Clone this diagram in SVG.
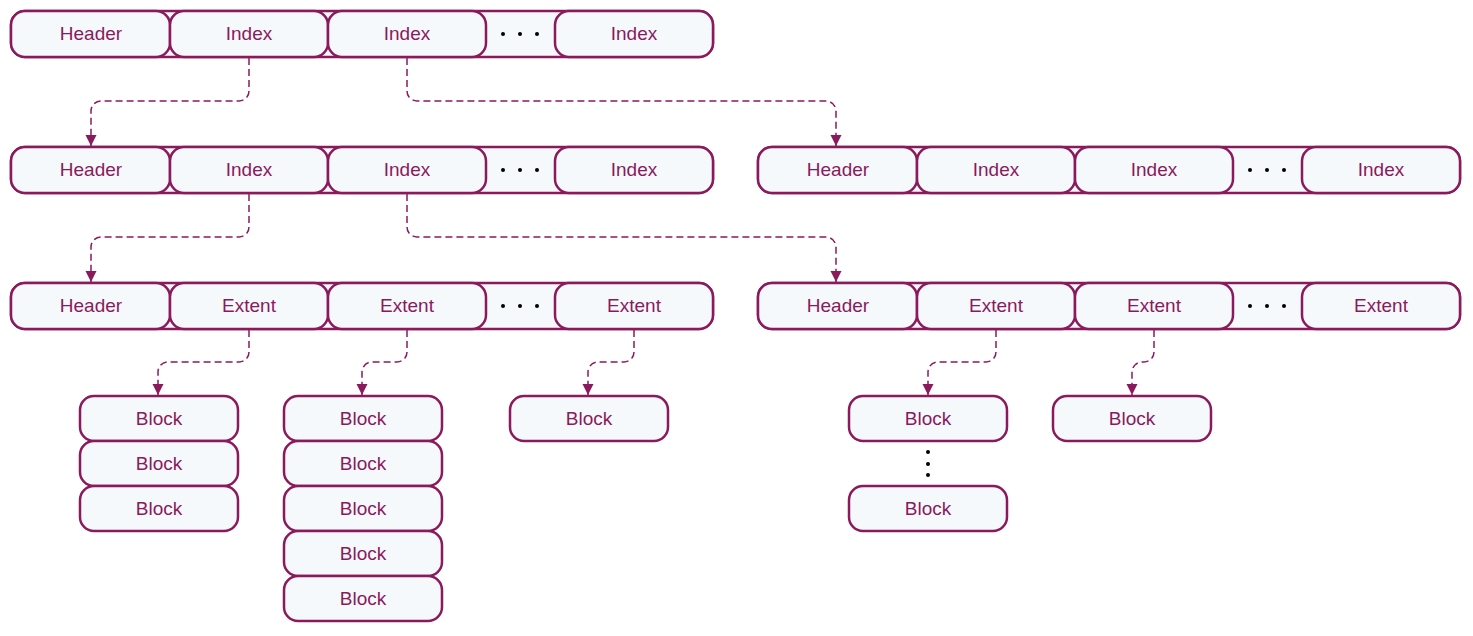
<svg xmlns="http://www.w3.org/2000/svg" width="1473" height="636" viewBox="0 0 1473 636">
<style>
.box{fill:#f5f9fc;stroke:#8b1a5c;stroke-width:2.5}
.t{font-family:"Liberation Sans",Arial,sans-serif;font-size:19px;fill:#8b1a5c;text-anchor:middle}
.dot{fill:#000}
.c{fill:none;stroke:#8b1a5c;stroke-width:1.5;stroke-dasharray:7 4}
</style>
<defs>
<marker id="ah" markerUnits="userSpaceOnUse" markerWidth="12" markerHeight="12" refX="11" refY="5.5" orient="auto">
<path d="M0,0 L11,5.5 L0,11 z" fill="#8b1a5c"/>
</marker>
</defs>
<rect width="1473" height="636" fill="#fff"/>

<g id="row1">
<rect class="box" x="11" y="11" width="702" height="46" rx="14"/>
<g id="r1-header"><rect class="box" x="11" y="11" width="159" height="46" rx="14"/><text class="t" x="91" y="40">Header</text></g>
<g id="r1-index1"><rect class="box" x="170" y="11" width="158" height="46" rx="14"/><text class="t" x="249" y="40">Index</text></g>
<g id="r1-index2"><rect class="box" x="328" y="11" width="158" height="46" rx="14"/><text class="t" x="407" y="40">Index</text></g>
<circle class="dot" cx="503" cy="34" r="2"/><circle class="dot" cx="520" cy="34" r="2"/><circle class="dot" cx="537" cy="34" r="2"/>
<g id="r1-index3"><rect class="box" x="555" y="11" width="158" height="46" rx="14"/><text class="t" x="634" y="40">Index</text></g>
</g>

<g id="row2a">
<rect class="box" x="11" y="147" width="702" height="46" rx="14"/>
<g id="r2a-header"><rect class="box" x="11" y="147" width="159" height="46" rx="14"/><text class="t" x="91" y="176">Header</text></g>
<g id="r2a-index1"><rect class="box" x="170" y="147" width="158" height="46" rx="14"/><text class="t" x="249" y="176">Index</text></g>
<g id="r2a-index2"><rect class="box" x="328" y="147" width="158" height="46" rx="14"/><text class="t" x="407" y="176">Index</text></g>
<circle class="dot" cx="503" cy="170" r="2"/><circle class="dot" cx="520" cy="170" r="2"/><circle class="dot" cx="537" cy="170" r="2"/>
<g id="r2a-index3"><rect class="box" x="555" y="147" width="158" height="46" rx="14"/><text class="t" x="634" y="176">Index</text></g>
</g>

<g id="row2b">
<rect class="box" x="758" y="147" width="702" height="46" rx="14"/>
<g id="r2b-header"><rect class="box" x="758" y="147" width="159" height="46" rx="14"/><text class="t" x="838" y="176">Header</text></g>
<g id="r2b-index1"><rect class="box" x="917" y="147" width="158" height="46" rx="14"/><text class="t" x="996" y="176">Index</text></g>
<g id="r2b-index2"><rect class="box" x="1075" y="147" width="158" height="46" rx="14"/><text class="t" x="1154" y="176">Index</text></g>
<circle class="dot" cx="1250" cy="170" r="2"/><circle class="dot" cx="1267" cy="170" r="2"/><circle class="dot" cx="1284" cy="170" r="2"/>
<g id="r2b-index3"><rect class="box" x="1302" y="147" width="158" height="46" rx="14"/><text class="t" x="1381" y="176">Index</text></g>
</g>

<g id="row3a">
<rect class="box" x="11" y="283" width="702" height="46" rx="14"/>
<g id="r3a-header"><rect class="box" x="11" y="283" width="159" height="46" rx="14"/><text class="t" x="91" y="312">Header</text></g>
<g id="r3a-ext1"><rect class="box" x="170" y="283" width="158" height="46" rx="14"/><text class="t" x="249" y="312">Extent</text></g>
<g id="r3a-ext2"><rect class="box" x="328" y="283" width="158" height="46" rx="14"/><text class="t" x="407" y="312">Extent</text></g>
<circle class="dot" cx="503" cy="306" r="2"/><circle class="dot" cx="520" cy="306" r="2"/><circle class="dot" cx="537" cy="306" r="2"/>
<g id="r3a-ext3"><rect class="box" x="555" y="283" width="158" height="46" rx="14"/><text class="t" x="634" y="312">Extent</text></g>
</g>

<g id="row3b">
<rect class="box" x="758" y="283" width="702" height="46" rx="14"/>
<g id="r3b-header"><rect class="box" x="758" y="283" width="159" height="46" rx="14"/><text class="t" x="838" y="312">Header</text></g>
<g id="r3b-ext1"><rect class="box" x="917" y="283" width="158" height="46" rx="14"/><text class="t" x="996" y="312">Extent</text></g>
<g id="r3b-ext2"><rect class="box" x="1075" y="283" width="158" height="46" rx="14"/><text class="t" x="1154" y="312">Extent</text></g>
<circle class="dot" cx="1250" cy="306" r="2"/><circle class="dot" cx="1267" cy="306" r="2"/><circle class="dot" cx="1284" cy="306" r="2"/>
<g id="r3b-ext3"><rect class="box" x="1302" y="283" width="158" height="46" rx="14"/><text class="t" x="1381" y="312">Extent</text></g>
</g>

<g id="blocks1">
<g id="b1-1"><rect class="box" x="80" y="396" width="158" height="45" rx="14"/><text class="t" x="159" y="425">Block</text></g>
<g id="b1-2"><rect class="box" x="80" y="441" width="158" height="45" rx="14"/><text class="t" x="159" y="470">Block</text></g>
<g id="b1-3"><rect class="box" x="80" y="486" width="158" height="45" rx="14"/><text class="t" x="159" y="515">Block</text></g>
</g>
<g id="blocks2">
<g id="b2-1"><rect class="box" x="284" y="396" width="158" height="45" rx="14"/><text class="t" x="363" y="425">Block</text></g>
<g id="b2-2"><rect class="box" x="284" y="441" width="158" height="45" rx="14"/><text class="t" x="363" y="470">Block</text></g>
<g id="b2-3"><rect class="box" x="284" y="486" width="158" height="45" rx="14"/><text class="t" x="363" y="515">Block</text></g>
<g id="b2-4"><rect class="box" x="284" y="531" width="158" height="45" rx="14"/><text class="t" x="363" y="560">Block</text></g>
<g id="b2-5"><rect class="box" x="284" y="576" width="158" height="45" rx="14"/><text class="t" x="363" y="605">Block</text></g>
</g>
<g id="blocks3">
<g id="b3-1"><rect class="box" x="510" y="396" width="158" height="45" rx="14"/><text class="t" x="589" y="425">Block</text></g>
</g>
<g id="blocks4">
<g id="b4-1"><rect class="box" x="849" y="396" width="158" height="45" rx="14"/><text class="t" x="928" y="425">Block</text></g>
<circle class="dot" cx="928" cy="452" r="2"/><circle class="dot" cx="928" cy="464" r="2"/><circle class="dot" cx="928" cy="475" r="2"/>
<g id="b4-2"><rect class="box" x="849" y="486" width="158" height="45" rx="14"/><text class="t" x="928" y="515">Block</text></g>
</g>
<g id="blocks5">
<g id="b5-1"><rect class="box" x="1053" y="396" width="158" height="45" rx="14"/><text class="t" x="1132" y="425">Block</text></g>
</g>

<g id="connectors">
<path class="c" marker-end="url(#ah)" d="M249 58 V91 A10 10 0 0 1 239 101 H101 A10 10 0 0 0 91 111 V146"/>
<path class="c" marker-end="url(#ah)" d="M407 58 V91 A10 10 0 0 0 417 101 H826 A10 10 0 0 1 836 111 V146"/>
<path class="c" marker-end="url(#ah)" d="M249 194 V227 A10 10 0 0 1 239 237 H101 A10 10 0 0 0 91 247 V282"/>
<path class="c" marker-end="url(#ah)" d="M407 194 V227 A10 10 0 0 0 417 237 H826 A10 10 0 0 1 836 247 V282"/>
<path class="c" marker-end="url(#ah)" d="M249 330 V352 A10 10 0 0 1 239 362 H168 A10 10 0 0 0 158 372 V395"/>
<path class="c" marker-end="url(#ah)" d="M407 330 V352 A10 10 0 0 1 397 362 H372 A10 10 0 0 0 362 372 V395"/>
<path class="c" marker-end="url(#ah)" d="M634 330 V352 A10 10 0 0 1 624 362 H598 A10 10 0 0 0 588 372 V395"/>
<path class="c" marker-end="url(#ah)" d="M996 330 V352 A10 10 0 0 1 986 362 H938 A10 10 0 0 0 928 372 V395"/>
<path class="c" marker-end="url(#ah)" d="M1154 330 V352 A10 10 0 0 1 1144 362 H1142 A10 10 0 0 0 1132 372 V395"/>
</g>
</svg>
